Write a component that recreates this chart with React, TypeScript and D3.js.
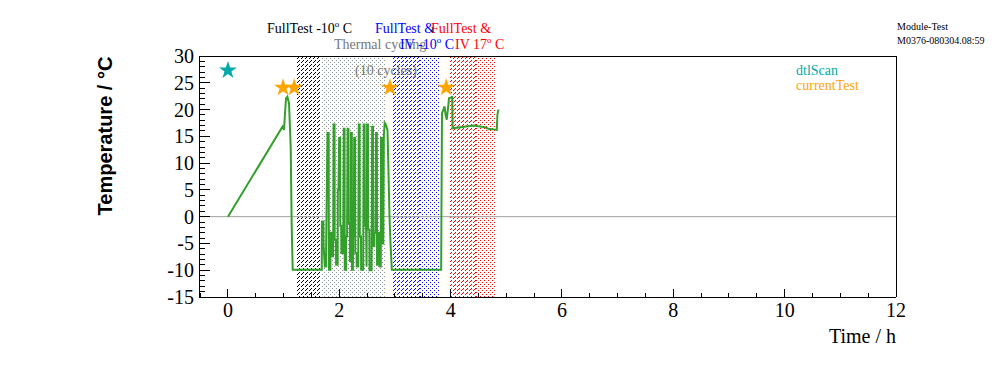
import React from 'react';
import * as d3 from 'd3';

// temperature log (time in h, temperature in deg C)
const tempTime = [
  0, 0.98, 1.007, 1.025, 1.043, 1.067, 1.097, 1.127, 1.145, 1.163,
  1.685, 1.688, 1.715, 1.718, 1.74, 1.76, 1.788, 1.81, 1.813, 1.84, 1.843, 1.86, 1.863, 1.89,
  1.898, 1.915, 1.918, 1.94, 1.943, 1.97, 1.973, 1.985, 1.998, 2.015, 2.018, 2.035, 2.038, 2.07,
  2.08, 2.095, 2.098, 2.12, 2.123, 2.14, 2.15, 2.165, 2.168, 2.19, 2.193, 2.205, 2.21, 2.225,
  2.228, 2.245, 2.248, 2.26, 2.268, 2.285, 2.288, 2.31, 2.313, 2.34, 2.35, 2.365, 2.368, 2.39,
  2.393, 2.43, 2.44, 2.455, 2.458, 2.48, 2.49, 2.5, 2.515, 2.518, 2.54, 2.543, 2.58, 2.59, 2.605,
  2.608, 2.63, 2.633, 2.65, 2.66, 2.675, 2.678, 2.7, 2.703, 2.73, 2.733, 2.745, 2.75, 2.765, 2.768,
  2.79, 2.8, 2.815, 2.835, 2.866, 2.88, 2.902, 2.92, 2.944,
  3.83, 3.835, 3.845, 3.87, 3.89, 3.91, 3.93, 3.96, 3.97, 4.03, 4.035, 4.41, 4.62, 4.68, 4.83, 4.84, 4.86,
];
const tempValue = [
  0, 16.8, 16.2, 19.3, 22.1, 22.4, 21.2, 13.1, -1.7, -9.9,
  -9.9, -0.9, -0.9, -5.5, -9.3, -9.3, 15.6, 15.6, -9.9, -9.9, -3, -3, -7.4, -7.4,
  17.2, 17.2, -4.3, -4.3, -9, -9, 5, 5, 14.7, 14.7, -1.7, -1.7, -6.8, -6.8,
  16.4, 16.4, -9.9, -9.9, -3.7, -3.7, 16.4, 16.4, -1.2, -1.2, -8.3, -8.3, 15.6, 15.6,
  -9.9, -9.9, -3.7, -3.7, 14.7, 14.7, -6.8, -6.8, -9.3, -9.3, 17.2, 17.2, -3.7, -3.7,
  -9.9, -9.9, 17.2, 17.2, -1.7, -1.7, -9.3, 17.2, 17.2, -2.4, -2.4, -10, -10, 16.8, 16.8,
  -5.5, -5.5, -3, -3, 15.6, 15.6, -9, -9, -3, -3, -9.3, -9.3, 14.7, 14.7, -5,
  -5, 15, 17.5, 17.2, 16.2, 10, 0, -5, -9.9,
  -9.9, 1, 19.3, 20.0, 20.6, 19.0, 18.1, 20.9, 22.1, 22.3, 16.5, 17.0, 16.7, 16.4, 16.2, 19.0, 20.0,
];

const dtlScanTime = [0];
const dtlScanTemp = [27.3];
const currentTestTime = [0.99, 1.19, 2.91, 3.92];
const currentTestTemp = [24.1, 24.1, 24.1, 24.1];

// test periods (h)
const bandStart = [1.22, 1.68, 2.95, 3.45, 3.99, 4.45];
const bandEnd = [1.66, 2.82, 3.45, 3.8, 4.45, 4.8];
const bandPattern = ['diagBlack', 'dotGray', 'diagBlue', 'dotBlue', 'diagRed', 'dotRed'];

const xMajor = [0, 2, 4, 6, 8, 10, 12];
const yMajor = [-15, -10, -5, 0, 5, 10, 15, 20, 25, 30];

const W = 996;
const H = 372;
const left = 199;
const right = 896;
const top = 56;
const bottom = 297;

const serif = 'Liberation Serif, Times New Roman, serif';
const green = '#33a02c';
const teal = '#00aaaa';
const orange = '#ffa500';

const Sup = ({ children }: { children: string }) => (
  <>
    <tspan dy={-6} fontSize={9}>o</tspan>
    <tspan dy={6}>{children}</tspan>
  </>
);

export default function App() {
  const x = d3.scaleLinear().domain([-0.52, 12]).range([left, right]);
  const y = d3.scaleLinear().domain([-15, 30]).range([bottom, top]);

  const pts = tempTime.map((t, i) => [t, tempValue[i]] as [number, number]);
  const line = d3
    .line<[number, number]>()
    .x((d) => x(d[0]))
    .y((d) => y(d[1]));

  const star = d3.symbol(d3.symbolStar, 100)() as string;

  const yMinor = d3.range(-15, 30.01, 1);
  const xMinor = d3.range(-0.5, 12.01, 0.5);

  const dotPattern = (id: string, color: string) => (
    <pattern id={id} width={4} height={4} patternUnits="userSpaceOnUse">
      <rect x={0} y={0} width={1} height={1} fill={color} />
      <rect x={2} y={2} width={1} height={1} fill={color} />
    </pattern>
  );
  const diagPattern = (id: string, color: string) => (
    <pattern id={id} width={4} height={4} patternUnits="userSpaceOnUse">
      <rect x={3} y={0} width={1} height={1} fill={color} />
      <rect x={2} y={1} width={1} height={1} fill={color} />
      <rect x={1} y={2} width={1} height={1} fill={color} />
    </pattern>
  );

  return (
    <svg
      width={W}
      height={H}
      style={{ position: 'absolute', left: 0, top: 0, background: '#fff' }}
      fontFamily={serif}
    >
      <defs>
        {diagPattern('diagBlack', '#000')}
        {dotPattern('dotGray', '#8c9c94')}
        {diagPattern('diagBlue', '#0000ff')}
        {dotPattern('dotBlue', '#0000ff')}
        {diagPattern('diagRed', '#ff0000')}
        {dotPattern('dotRed', '#ff0000')}
      </defs>

      {bandStart.map((s, i) => (
        <rect
          key={'b' + i}
          x={x(s)}
          y={top}
          width={x(bandEnd[i]) - x(s)}
          height={bottom - top}
          fill={`url(#${bandPattern[i]})`}
          shapeRendering="crispEdges"
        />
      ))}

      <line x1={left} x2={right} y1={y(0)} y2={y(0)} stroke="#a0a0a0" strokeWidth={1} />

      <path d={line(pts) as string} fill="none" stroke={green} strokeWidth={2} strokeLinejoin="miter" />

      {dtlScanTime.map((t, i) => (
        <path key={'d' + i} d={star} transform={`translate(${x(t)},${y(dtlScanTemp[i])})`} fill={teal} />
      ))}
      {currentTestTime.map((t, i) => (
        <path key={'c' + i} d={star} transform={`translate(${x(t)},${y(currentTestTemp[i])})`} fill={orange} />
      ))}

      {/* frame */}
      <g stroke="#000" strokeWidth={1} shapeRendering="crispEdges" fill="none">
        <line x1={left} x2={right} y1={top} y2={top} />
        <line x1={right} x2={right} y1={top} y2={bottom} />
        <line x1={left} x2={right} y1={bottom} y2={bottom} />
        <line x1={left} x2={left} y1={top} y2={bottom} />
        {yMinor.map((v) => (
          <line key={'ym' + v} x1={left} x2={left + (v % 5 === 0 ? 11 : 6)} y1={y(v)} y2={y(v)} />
        ))}
        {xMinor.map((v) => (
          <line key={'xm' + v} x1={x(v)} x2={x(v)} y1={bottom} y2={bottom - (v % 2 === 0 ? 8 : 4)} />
        ))}
      </g>

      {yMajor.map((v) => (
        <text key={'yl' + v} x={194} y={y(v) + 7} fontSize={20} textAnchor="end">
          {v}
        </text>
      ))}
      {xMajor.map((v) => (
        <text key={'xl' + v} x={x(v)} y={317} fontSize={20} textAnchor="middle">
          {v}
        </text>
      ))}

      <text x={896} y={343} fontSize={20} textAnchor="end">
        Time / h
      </text>
      <text
        transform="translate(112,136) rotate(-90)"
        fontSize={20}
        fontWeight="bold"
        fontFamily="Liberation Sans, Arial, sans-serif"
        textAnchor="middle"
      >
        Temperature / °C
      </text>

      {/* period labels */}
      <g fontSize={14}>
        <text x={267} y={33} fill="#000">
          FullTest -10<Sup> C</Sup>
        </text>
        <text x={334} y={49} fill="#777">
          Thermal cycling
        </text>
        <text x={355} y={75} fill="#777">
          (10 cycles)
        </text>
        <text x={375} y={33} fill="#0000ff">
          FullTest &amp;
        </text>
        <text x={400} y={49} fill="#0000ff">
          IV -10<Sup> C</Sup>
        </text>
        <text x={431} y={33} fill="#ff0000">
          FullTest &amp;
        </text>
        <text x={455} y={49} fill="#ff0000">
          IV 17<Sup> C</Sup>
        </text>
      </g>

      <text x={796} y={75} fontSize={14} fill={teal}>
        dtlScan
      </text>
      <text x={796} y={90} fontSize={14} fill={orange}>
        currentTest
      </text>

      <text x={897} y={30} fontSize={10}>
        Module-Test
      </text>
      <text x={897} y={44} fontSize={10}>
        M0376-080304.08:59
      </text>
    </svg>
  );
}
